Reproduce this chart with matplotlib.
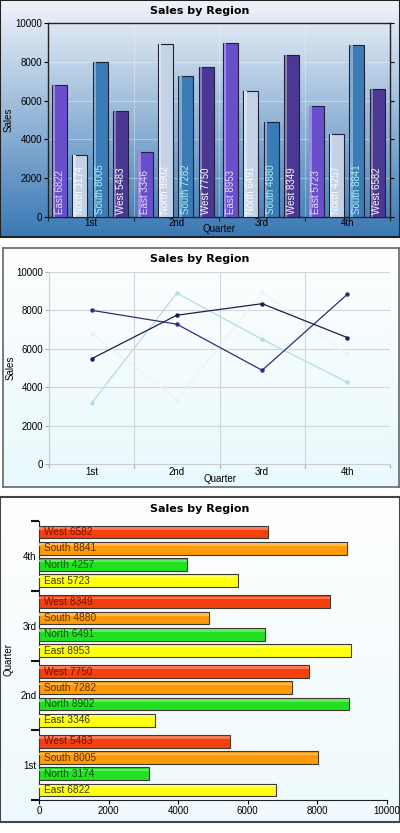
import numpy as np
import matplotlib
matplotlib.use("Agg")
import matplotlib.pyplot as plt
from matplotlib.colors import LinearSegmentedColormap, to_rgb

# ---------------- data ----------------
quarters = ["1st", "2nd", "3rd", "4th"]
regions = ["East", "North", "South", "West"]
east = [6822, 3346, 8953, 5723]
north = [3174, 8902, 6491, 4257]
south = [8005, 7282, 4880, 8841]
west = [5483, 7750, 8349, 6582]
series = [east, north, south, west]
title = "Sales by Region"
yticks = [0, 2000, 4000, 6000, 8000, 10000]

W, H = 400, 833
fig = plt.figure(figsize=(W / 100, H / 100), dpi=100)
fig.patch.set_facecolor("white")
plt.rcParams["font.family"] = ["Liberation Sans", "DejaVu Sans"]


def rect(x0, y0, x1, y1):
    return [x0 / W, 1 - y1 / H, (x1 - x0) / W, (y1 - y0) / H]


def background(r, top, bottom, edge, lw=1.2):
    bg = fig.add_axes(rect(*r), zorder=0)
    cmap = LinearSegmentedColormap.from_list("g", [top, bottom])
    grad = np.linspace(0, 1, 256).reshape(-1, 1)
    bg.imshow(grad, aspect="auto", cmap=cmap, extent=[0, 1, 0, 1], origin="upper")
    bg.set_xticks([]); bg.set_yticks([])
    for s in bg.spines.values():
        s.set_color(edge); s.set_linewidth(lw)
    return bg


def lighten(c, f):
    r = np.array(to_rgb(c))
    return tuple(r + (1 - r) * f)


def side_label(text, x, y):
    fig.text(x / W, 1 - y / H, text, rotation=90, ha="center", va="center", fontsize=7)


tick_font = 7
# ============ Panel 1: column chart ============
background((0, 0, 400, 237), "#f0f4fa", "#3a78b4", "#222222", 1.5)
ax1 = fig.add_axes(rect(48, 23, 390, 217), zorder=1)
ax1.patch.set_alpha(0)
ax1.set_xlim(0, 4); ax1.set_ylim(0, 10000)
col1 = ["#6a4fcc", "#c5d2e6", "#3b7cb6", "#4a3892"]
txt1 = ["#e6ddff", "#ffffff", "#a6f2f2", "#ffffff"]
bw = 0.175
for i, (vals, c, tc, reg) in enumerate(zip(series, col1, txt1, regions)):
    x = np.arange(4) + 0.135 + 0.238 * i
    ax1.bar(x, vals, width=bw, color=c, edgecolor="#20203a", linewidth=0.8, zorder=3)
    ax1.bar(x - bw * 0.36, vals, width=bw * 0.16, color=lighten(c, 0.35), linewidth=0, zorder=3.5)
    for xx, v in zip(x, vals):
        ax1.text(xx, 150, f"{reg} {v}", rotation=90, ha="center", va="bottom",
                 color=tc, fontsize=7, zorder=4)
ax1.set_yticks(yticks)
ax1.set_yticklabels([str(t) for t in yticks], fontsize=tick_font)
ax1.set_xticks([0, 1, 2, 3, 4])
ax1.set_xticklabels([])
ax1.set_xticks(np.arange(4) + 0.5, minor=True)
ax1.set_xticklabels(quarters, minor=True, fontsize=tick_font)
ax1.tick_params(axis="x", which="minor", length=0, pad=1)
ax1.tick_params(axis="x", which="major", length=3, color="#222222")
ax1.tick_params(axis="y", length=3, pad=1, right=True, direction="out")
ax1.grid(axis="y", color="#ffffff", alpha=0.35, linewidth=0.8, zorder=1)
ax1.grid(axis="x", which="major", color="#ffffff", alpha=0.3, linewidth=0.8, zorder=1)
for s in ax1.spines.values():
    s.set_color("#222222"); s.set_linewidth(1.0)
side_label("Sales", 9, 120)
ax1.set_xlabel("Quarter", fontsize=7, labelpad=-3)
fig.text(200 / W, 1 - 11 / H, title, ha="center", va="center", fontsize=8,
         fontweight="bold", family=["DejaVu Sans"])

# ============ Panel 2: line chart ============
background((3, 248, 399, 487), "#ffffff", "#e8f9fc", "#666666", 1.2)
ax2 = fig.add_axes(rect(49, 272, 390, 464), zorder=1)
ax2.patch.set_alpha(0)
ax2.set_xlim(0, 4); ax2.set_ylim(0, 10000)
col2 = ["#eaf4f6", "#b2dde2", "#2e2e78", "#1e1e4e"]
xs = np.arange(4) + 0.5
for vals, c in zip(series, col2):
    ax2.plot(xs, vals, color=c, linewidth=0.9, marker="o", markersize=2.2, zorder=3)
ax2.set_yticks(yticks)
ax2.set_yticklabels([str(t) for t in yticks], fontsize=tick_font)
ax2.set_xticks([0, 1, 2, 3, 4])
ax2.set_xticklabels([])
ax2.set_xticks(xs, minor=True)
ax2.set_xticklabels(quarters, minor=True, fontsize=tick_font)
ax2.tick_params(axis="x", which="minor", length=0, pad=2)
ax2.tick_params(axis="x", which="major", length=3, color="#aaaaaa")
ax2.tick_params(axis="y", length=3, color="#aaaaaa", pad=1)
ax2.grid(axis="y", color="#d0d6da", linewidth=0.8, zorder=1)
ax2.grid(axis="x", which="major", color="#d0d6da", linewidth=0.8, zorder=1)
for k in ["top", "right"]:
    ax2.spines[k].set_visible(False)
for k in ["left", "bottom"]:
    ax2.spines[k].set_color("#c8ced2")
side_label("Sales", 11, 368)
ax2.set_xlabel("Quarter", fontsize=7, labelpad=-2)
fig.text(200 / W, 1 - 259 / H, title, ha="center", va="center", fontsize=8,
         fontweight="bold", family=["DejaVu Sans"])

# ============ Panel 3: horizontal bars ============
background((0, 497, 400, 822), "#ffffff", "#eefafd", "#444444", 1.5)
ax3 = fig.add_axes(rect(39, 521, 387, 800), zorder=1)
ax3.patch.set_alpha(0)
ax3.set_xlim(0, 10000); ax3.set_ylim(0, 4)
col3 = ["#ffff10", "#22e022", "#ff9a08", "#f4400e"]
txt3 = ["#3a3a00", "#0a5a0a", "#5a3000", "#7a1000"]
bh = 0.18
for i, (vals, c, tc, reg) in enumerate(zip(series, col3, txt3, regions)):
    y = np.arange(4) + 0.143 + 0.233 * i
    ax3.barh(y, vals, height=bh, color=c, edgecolor="#403a30", linewidth=0.8, zorder=3)
    ax3.barh(y + bh * 0.3, vals, height=bh * 0.2, color=lighten(c, 0.3), linewidth=0, zorder=3.5)
    for yy, v in zip(y, vals):
        ax3.text(150, yy, f"{reg} {v}", ha="left", va="center", color=tc,
                 fontsize=7.3, zorder=4)
ax3.set_xticks(yticks)
ax3.set_xticklabels([str(t) for t in yticks], fontsize=tick_font)
ax3.set_yticks([0, 1, 2, 3, 4])
ax3.set_yticklabels([])
ax3.set_yticks(np.arange(4) + 0.5, minor=True)
ax3.set_yticklabels(quarters, minor=True, fontsize=tick_font)
ax3.tick_params(axis="y", which="minor", length=0, pad=2)
ax3.tick_params(axis="y", which="major", length=6, width=1.5, color="#111111")
ax3.tick_params(axis="x", length=3, pad=1)
for k in ["top", "right"]:
    ax3.spines[k].set_visible(False)
for k in ["left", "bottom"]:
    ax3.spines[k].set_color("#222222")
side_label("Quarter", 9, 660)
fig.text(200 / W, 1 - 509 / H, title, ha="center", va="center", fontsize=8,
         fontweight="bold", family=["DejaVu Sans"])

fig.savefig("out.png", dpi=100)
